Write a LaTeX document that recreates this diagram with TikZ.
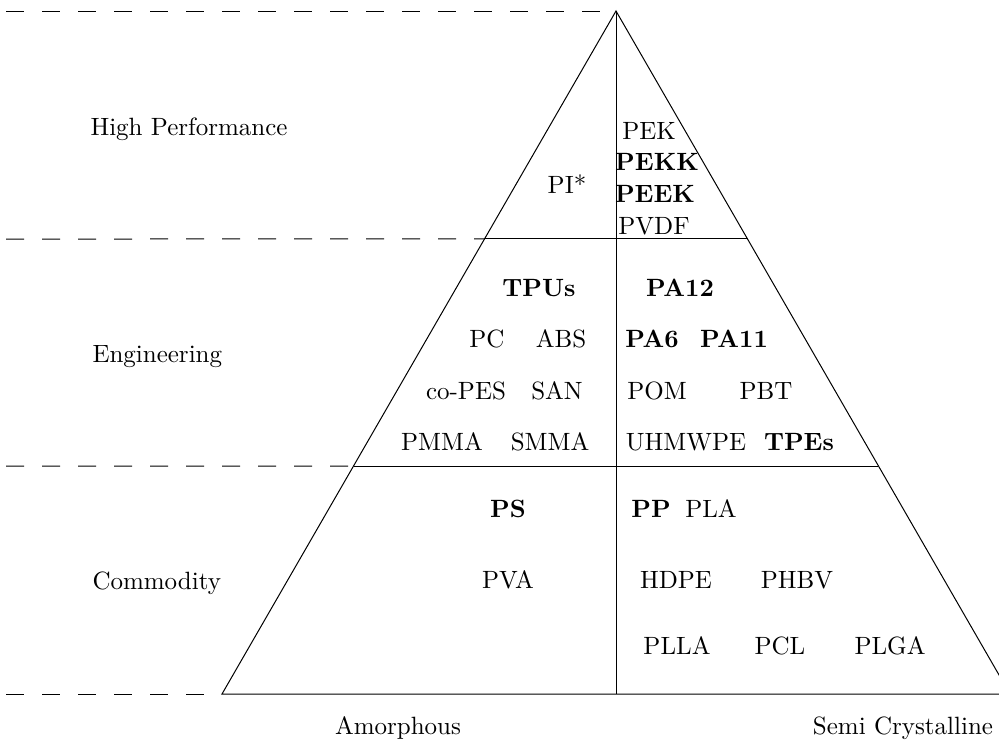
\documentclass[tikz,border=0pt]{standalone}
\usetikzlibrary{calc}
\begin{document}
\begin{tikzpicture}[x=0.4pt,y=-0.4pt,
  edge/.style={line width=0.4pt},
  guide/.style={line width=0.4pt, dash pattern=on 7.2pt off 7.2pt},
  lbl/.style={anchor=base, inner sep=0pt},
  hot/.style={lbl, font=\bfseries},
  tier/.style={anchor=base west, inner sep=0pt}]
\useasboundingbox (0,0) rectangle (999,740);

% pyramid outline
\coordinate (apex) at (616,11);
\coordinate (bl) at (222,694);
\coordinate (br) at (1010,694);
\coordinate (bm) at (616,694);
\coordinate (hl) at ($(apex)!0.3338!(bl)$);
\coordinate (hr) at ($(apex)!0.3338!(br)$);
\coordinate (ml) at ($(apex)!0.6662!(bl)$);
\coordinate (mr) at ($(apex)!0.6662!(br)$);
\draw[edge] (bl) -- (apex) -- (br) -- cycle;
\draw[edge] (apex) -- (bm);
\draw[edge] (hl) -- (hr);
\draw[edge] (ml) -- (mr);

% dashed tier guides
\coordinate (g0) at (6,11);
\coordinate (g1) at (6,239);
\coordinate (g2) at (6,466);
\coordinate (g3) at (6,694);
\draw[guide] (g0) -- (apex);
\draw[guide] (g1) -- (hl);
\draw[guide] (g2) -- (ml);
\draw[guide] (g3) -- (bl);

% tier names
\node[tier] (thp) at (90,135) {High Performance};
\node[tier] (teng) at (92,362) {Engineering};
\node[tier] (tcom) at (92,589) {Commodity};

% column names
\node[lbl] (camo) at (398,734) {Amorphous};
\node[lbl] (csemi) at (903,734) {Semi Crystalline};

% high performance
\node[lbl] (pi) at (567,193) {PI*};
\node[lbl] (pek) at (649,139) {PEK};
\node[hot] (pekk) at (657,170) {PEKK};
\node[hot] (peek) at (655,202) {PEEK};
\node[lbl] (pvdf) at (654,234) {PVDF};

% engineering
\node[hot] (tpu) at (539,296) {TPUs};
\node[hot] (pa12) at (680,296) {PA12};
\node[lbl] (pc) at (487,347) {PC};
\node[lbl] (abs) at (561,347) {ABS};
\node[hot] (pa6) at (652,347) {PA6};
\node[hot] (pa11) at (734,347) {PA11};
\node[lbl] (copes) at (466,399) {co-PES};
\node[lbl] (san) at (557,399) {SAN};
\node[lbl] (pom) at (657,399) {POM};
\node[lbl] (pbt) at (766,399) {PBT};
\node[lbl] (pmma) at (442,450) {PMMA};
\node[lbl] (smma) at (550,450) {SMMA};
\node[lbl] (uhmwpe) at (686,450) {UHMWPE};
\node[hot] (tpe) at (799,450) {TPEs};

% commodity
\node[hot] (ps) at (508,517) {PS};
\node[hot] (pp) at (651,517) {PP};
\node[lbl] (pla) at (711,517) {PLA};
\node[lbl] (pva) at (508,588) {PVA};
\node[lbl] (hdpe) at (676,588) {HDPE};
\node[lbl] (phbv) at (797,588) {PHBV};
\node[lbl] (plla) at (677,654) {PLLA};
\node[lbl] (pcl) at (780,654) {PCL};
\node[lbl] (plga) at (890,654) {PLGA};
\end{tikzpicture}
\end{document}
